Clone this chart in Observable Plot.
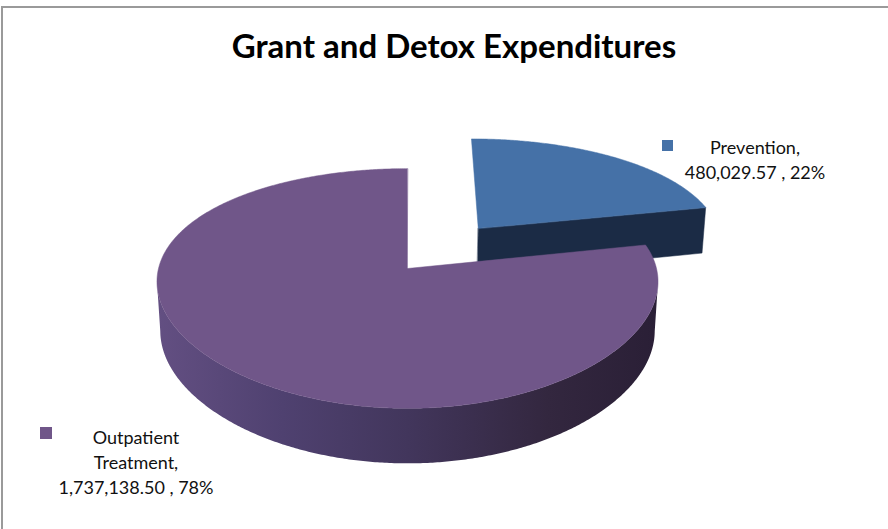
<!DOCTYPE html>
<html>
<head>
<meta charset="utf-8">
<script src="https://cdn.jsdelivr.net/npm/d3@7"></script>
<script src="https://cdn.jsdelivr.net/npm/@observablehq/plot@0.6"></script>
<style>
  html, body { margin: 0; padding: 0; background: #fff; }
  #wrap { position: relative; width: 888px; height: 529px; overflow: hidden; font-family: Lato, "Open Sans", sans-serif; }
  #frame { position: absolute; left: 1px; top: 6px; right: -4px; bottom: -4px; border-top: 2px solid #9a9a9a; border-left: 2px solid #9a9a9a; }
  #title { position: absolute; left: 20px; width: 868px; top: 25px; text-align: center; font-weight: 700; font-size: 33px; line-height: 40px; color: #000; }
  .lab { position: absolute; text-align: center; font-size: 18px; line-height: 25px; color: #111; }
  .sq { position: absolute; width: 11px; height: 11px; }
  #chart { position: absolute; left: 0; top: 0; }
</style>
</head>
<body>
<div id="wrap">
  <div id="chart"></div>
  <div id="frame"></div>
  <div id="title"></div>
  <div class="sq" id="sq0"></div>
  <div class="lab" id="lab0"></div>
  <div class="sq" id="sq1"></div>
  <div class="lab" id="lab1"></div>
</div>
<script>
// ---- data ----
const categories = ["Prevention", "Outpatient Treatment"];
const values = [480029.57, 1737138.50];
const valueLabels = ["480,029.57", "1,737,138.50"];
const percentLabels = ["22%", "78%"];
const explode = [0.47, 0];
const topColors = ["#4571A7", "#705689"];
const sideColors = ["#1B2B45", "url(#purpleSide)"];
const titleText = "Grant and Detox Expenditures";

// ---- 3D projection of the pie (unit radius disk, thickness H) ----
const R = 249, D = 5.3, Dx = 8, tilt = 27.9 * Math.PI / 180;
const s = Math.sin(tilt), c = Math.cos(tilt), H = 0.226;
function proj(u, v, z) {
  const depth = D + v * c - z * s;
  const depthX = Dx + v * c - z * s;
  return {x: R * Dx * u / depthX, y: R * D * (v * s + z * c) / depth};
}

const arcs = d3.pie().sort(null).value(d => d)(values);
const deg = Math.PI / 180;

const tops = [], walls = [], sides = [];
arcs.forEach((a, i) => {
  const m = (a.startAngle + a.endAngle) / 2;
  const ox = explode[i] * Math.sin(m), oy = explode[i] * Math.cos(m);
  const rim = (ang, z) => proj(ox + Math.sin(ang), oy + Math.cos(ang), z);
  const ctr = z => proj(ox, oy, z);
  // top face
  const id = "top" + i;
  tops.push({...ctr(0), id, slice: i});
  const n = Math.max(2, Math.ceil((a.endAngle - a.startAngle) / (0.5 * deg)));
  const angs = [];
  for (let k = 0; k <= n; k++) angs.push(a.startAngle + (a.endAngle - a.startAngle) * k / n);
  angs.forEach(ang => tops.push({...rim(ang, 0), id, slice: i}));
  // front radial wall at the end angle (faces the viewer for the exploded slice)
  if (i === 0) {
    const ang = a.endAngle;
    [ctr(0), rim(ang, 0), rim(ang, -H), ctr(-H)].forEach(p => walls.push({...p, id: "w" + i, slice: i}));
  }
  // outer curved wall between the screen silhouettes (front half of the rim)
  const front = angs.filter(ang => Math.cos(ang) < 0);
  if (front.length > 1) {
    const xs = angs.map(ang => rim(ang, 0).x);
    const iMin = d3.minIndex(xs), iMax = d3.maxIndex(xs);
    const lo = Math.min(iMin, iMax), hi = Math.max(iMin, iMax);
    const seg = angs.slice(lo, hi + 1);
    const sid = "side" + i;
    seg.forEach(ang => sides.push({...rim(ang, 0), id: sid, slice: i}));
    seg.slice().reverse().forEach(ang => sides.push({...rim(ang, -H), id: sid, slice: i}));
  }
});

const chart = Plot.plot({
  width: 888,
  height: 529,
  margin: 0,
  x: {domain: [-407, 888 - 407], axis: null},
  y: {domain: [268 - 529, 268], axis: null},
  style: {background: "transparent"},
  marks: [
    // Prevention (exploded, at the back)
    Plot.line(walls.filter(d => d.slice === 0), {x: "x", y: "y", z: "id", curve: "linear-closed", fill: sideColors[0], stroke: sideColors[0], strokeWidth: 0.5}),
    Plot.line(tops.filter(d => d.slice === 0), {x: "x", y: "y", z: "id", curve: "linear-closed", fill: topColors[0], stroke: topColors[0], strokeWidth: 0.5}),
    // Outpatient Treatment
    Plot.line(sides.filter(d => d.slice === 1), {x: "x", y: "y", z: "id", curve: "linear-closed", fill: sideColors[1], stroke: "none"}),
    Plot.line(tops.filter(d => d.slice === 1), {x: "x", y: "y", z: "id", curve: "linear-closed", fill: topColors[1], stroke: topColors[1], strokeWidth: 0.5})
  ]
});
// gradient used for the curved side of the big slice
const ns = "http://www.w3.org/2000/svg";
const defs = document.createElementNS(ns, "defs");
defs.innerHTML = '<linearGradient id="purpleSide" x1="0" y1="0" x2="1" y2="0">' +
  '<stop offset="0" stop-color="#634f82"/>' +
  '<stop offset="0.25" stop-color="#4f4170"/>' +
  '<stop offset="0.5" stop-color="#42365c"/>' +
  '<stop offset="0.78" stop-color="#33273f"/>' +
  '<stop offset="1" stop-color="#2a1f36"/>' +
  '</linearGradient>';
chart.insertBefore(defs, chart.firstChild);
document.getElementById("chart").appendChild(chart);

// ---- text ----
document.getElementById("title").textContent = titleText;
const sq0 = document.getElementById("sq0");
sq0.style.cssText += "left:662px;top:140px;background:" + topColors[0];
const lab0 = document.getElementById("lab0");
lab0.style.cssText += "left:655px;width:200px;top:135px;";
lab0.innerHTML = categories[0] + ",<br>" + valueLabels[0] + " , " + percentLabels[0];
const sq1 = document.getElementById("sq1");
sq1.style.cssText += "left:40px;top:427px;width:12px;height:12px;background:" + topColors[1];
const lab1 = document.getElementById("lab1");
lab1.style.cssText += "left:36px;width:200px;top:425px;";
const parts = categories[1].split(" ");
lab1.innerHTML = parts[0] + "<br>" + parts[1] + ",<br>" + valueLabels[1] + " , " + percentLabels[1];
</script>
</body>
</html>
